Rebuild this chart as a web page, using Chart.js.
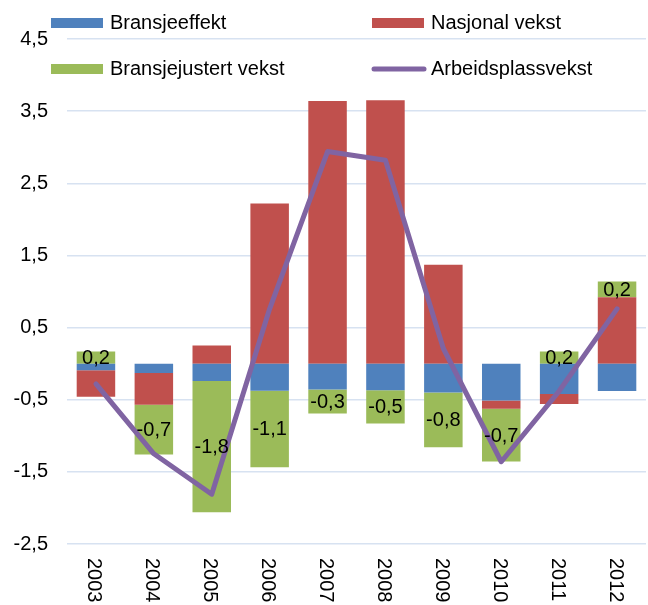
<!DOCTYPE html>
<html>
<head>
<meta charset="utf-8">
<script src="https://cdn.jsdelivr.net/npm/chart.js@4"></script>
<style>
  body { margin: 0; background: #fff; }
  canvas { display: block; }
</style>
</head>
<body>
<canvas id="myChart" width="648" height="605"></canvas>
<script>
var years = ["2003", "2004", "2005", "2006", "2007", "2008", "2009", "2010", "2011", "2012"];
var bransjeeffekt = [-0.09, -0.13, -0.24, -0.375, -0.36, -0.37, -0.40, -0.51, -0.42, -0.38];
var nasjonalVekst = [-0.37, -0.44, 0.25, 2.22, 3.64, 3.65, 1.37, -0.115, -0.14, 0.92];
var bransjejustertVekst = [0.17, -0.69, -1.82, -1.06, -0.33, -0.46, -0.76, -0.73, 0.17, 0.22];
var arbeidsplassvekst = [-0.28, -1.25, -1.81, 0.76, 2.94, 2.82, 0.21, -1.36, -0.38, 0.76];
var yTicks = [-2.5, -1.5, -0.5, 0.5, 1.5, 2.5, 3.5, 4.5];

var FONT = "'Liberation Sans', Arial, sans-serif";
var comma = function (v) { return v.toFixed(1).replace(".", ","); };

// legend drawn by hand: two columns, overlapping the top of the plot
var legendItems = [
    {text: "Bransjeeffekt", color: "#4F81BD", x: 51, y: 23, type: "box"},
    {text: "Nasjonal vekst", color: "#C0504D", x: 372, y: 23, type: "box"},
    {text: "Bransjejustert vekst", color: "#9BBB59", x: 51, y: 69, type: "box"},
    {text: "Arbeidsplassvekst", color: "#8064A2", x: 372, y: 69, type: "line"}
];

var extras = {
    id: "extras",
    afterDatasetsDraw: function (chart) {
        var ctx = chart.ctx;
        var meta = chart.getDatasetMeta(3);
        ctx.save();
        ctx.font = "20px " + FONT;
        ctx.fillStyle = "#000";
        ctx.textAlign = "center";
        ctx.textBaseline = "middle";
        meta.data.forEach(function (bar, i) {
            var v = bransjejustertVekst[i];
            ctx.fillText(comma(v), bar.x, (bar.y + bar.base) / 2 + 1);
        });
        ctx.restore();
    },
    afterDraw: function (chart) {
        var ctx = chart.ctx;
        var xs = chart.scales.x;
        ctx.save();
        ctx.font = "20px " + FONT;
        ctx.fillStyle = "#000";
        // year labels, rotated clockwise
        years.forEach(function (y, i) {
            ctx.save();
            ctx.translate(xs.getPixelForValue(i) - 2, 558);
            ctx.rotate(Math.PI / 2);
            ctx.textAlign = "left";
            ctx.textBaseline = "middle";
            ctx.fillText(y, 0, 0);
            ctx.restore();
        });
        // legend
        ctx.textAlign = "left";
        ctx.textBaseline = "middle";
        legendItems.forEach(function (it) {
            if (it.type == "box") {
                ctx.fillStyle = it.color;
                ctx.fillRect(it.x, it.y - 5, 52, 10);
            } else {
                ctx.strokeStyle = it.color;
                ctx.lineWidth = 5;
                ctx.lineCap = "round";
                ctx.beginPath();
                ctx.moveTo(it.x + 2, it.y);
                ctx.lineTo(it.x + 52, it.y);
                ctx.stroke();
            }
            ctx.fillStyle = "#000";
            ctx.fillText(it.text, it.x + 59, it.y);
        });
        ctx.restore();
    }
};

new Chart("myChart", {
    type: "bar",
    data: {
        labels: years,
        datasets: [
            {
                type: "line",
                label: "Arbeidsplassvekst",
                data: arbeidsplassvekst,
                borderColor: "#8064A2",
                borderWidth: 5,
                pointRadius: 0,
                tension: 0,
                fill: false,
                borderJoinStyle: "round",
                borderCapStyle: "round",
                stack: "line",
                order: -1
            },
            {label: "Bransjeeffekt", data: bransjeeffekt, backgroundColor: "#4F81BD", stack: "bars"},
            {label: "Nasjonal vekst", data: nasjonalVekst, backgroundColor: "#C0504D", stack: "bars"},
            {label: "Bransjejustert vekst", data: bransjejustertVekst, backgroundColor: "#9BBB59", stack: "bars"}
        ]
    },
    options: {
        responsive: false,
        animation: false,
        layout: {padding: {left: 13, top: 39, right: 2, bottom: 61}},
        datasets: {bar: {categoryPercentage: 1, barPercentage: 0.665}},
        plugins: {
            legend: {display: false},
            tooltip: {enabled: false}
        },
        scales: {
            x: {
                display: false,
                stacked: true
            },
            y: {
                stacked: true,
                min: yTicks[0],
                max: yTicks[yTicks.length - 1],
                afterBuildTicks: function (scale) {
                    scale.ticks = yTicks.map(function (v) { return {value: v}; });
                },
                afterFit: function (scale) {
                    scale.width = 54;
                },
                border: {display: false},
                grid: {color: "#D7E2F1", lineWidth: 1.5, drawTicks: false},
                ticks: {
                    padding: 19,
                    color: "#000",
                    font: {size: 20, family: FONT},
                    callback: function (v) { return comma(v); }
                }
            }
        }
    },
    plugins: [extras]
});
</script>
</body>
</html>
